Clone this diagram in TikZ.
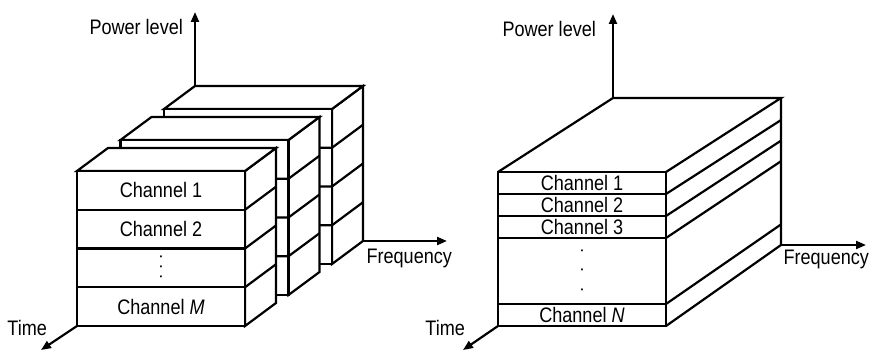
\documentclass[tikz,border=0pt]{standalone}
\usepackage{fontspec}
\setmainfont{Liberation Sans}[FakeStretch=0.86]
\usetikzlibrary{arrows.meta, positioning, calc}

\begin{document}
\begin{tikzpicture}[x=1pt, y=-1pt, line width=2.2pt,
    face/.style={draw, fill=white},
    axis/.style={-{Triangle[length=10pt, width=8pt]}},
    chan/.style={draw, fill=white, minimum width=168pt, inner sep=0pt, outer sep=0pt,
      text height=15pt, text depth=0pt, font=\fontsize{21}{21}\selectfont},
    lab/.style={inner sep=0pt, font=\fontsize{21}{21}\selectfont},
    dotmark/.style={inner sep=0pt, font=\fontsize{8}{8}\selectfont}]
    \useasboundingbox (0,0) rectangle (875,352);

    \foreach \x/\y in {164/109, 120.5/140} {
        \draw[face] (\x+168,\y) -- ++(31,-23) -- ++(0,155) -- ++(-31,23) -- cycle;
        \draw[face] (\x,\y) -- ++(31,-23) -- ++(168,0) -- ++(-31,23) -- cycle;
        \draw[face] (\x,\y) rectangle ++(168,155);
        \foreach \k in {1,2,3}
            \draw (\x,\y+\k*38.75) -- ++(168,0) -- ++(31,-23);
    }
    \draw[face] (245,171) -- ++(31,-23) -- ++(0,155) -- ++(-31,23) -- cycle;
    \draw[face] (77,171) -- ++(31,-23) -- ++(168,0) -- ++(-31,23) -- cycle;
    \node[chan, minimum height=38.75pt, anchor=north west] (m1) at (77,171) {Channel 1};
    \node[chan, minimum height=38.75pt, below=0pt of m1] (m2) {Channel 2};
    \node[chan, minimum height=38.75pt, below=0pt of m2] (m3) {};
    \node[chan, minimum height=38.75pt, below=0pt of m3] (m4) {Channel \textit{M}};
    \foreach \k in {1,2,3}
        \draw (m\k.south east) -- ++(31,-23);
    \foreach \k in {-1,0,1}
        \node[dotmark] (d1\k) at ($(m3.center)+(0,\k*10)$) {•};

    \coordinate (o1) at (195,86);
    \coordinate (p1) at (195,12);
    \coordinate (f1) at (363,241);
    \coordinate (q1) at (447,241);
    \coordinate (t1) at (41,350);
    \draw[axis] (o1) -- (p1);
    \draw[axis] (f1) -- (q1);
    \draw[axis] (m4.south west) -- (t1);
    \node[lab, anchor=east] (pw1) at ($(p1)+(-11,15)$) {Power level};
    \node[lab, anchor=base east] (fr1) at ($(q1)+(6,23)$) {Frequency};
    \node[lab, anchor=base east] (tm1) at ($(t1)+(7,-14)$) {Time};

    \node[chan, minimum height=22pt, anchor=north west] (n1) at (498,172) {Channel 1};
    \node[chan, minimum height=22pt, below=0pt of n1] (n2) {Channel 2};
    \node[chan, minimum height=22pt, below=0pt of n2] (n3) {Channel 3};
    \node[chan, minimum height=66pt, below=0pt of n3] (n4) {};
    \node[chan, minimum height=22pt, below=0pt of n4] (n5) {Channel \textit{N}};
    \foreach \k in {-1,0,1}
        \node[dotmark] (d2\k) at ($(n4.center)+(0,\k*19.5)$) {•};

    \coordinate (k1) at (613,98);
    \coordinate (k2) at (781,98);
    \coordinate (k3) at (781,245);
    \draw (n1.north west) -- (k1) -- (k2) -- (n1.north east);
    \draw (k2) -- (k3) -- (n5.south east);
    \foreach \k/\t in {1/0.15, 2/0.29, 3/0.43, 4/0.86}
        \draw (n\k.south east) -- ($(k2)!\t!(k3)$);

    \coordinate (p2) at (613,14);
    \coordinate (q2) at (866,245);
    \coordinate (t2) at (463,350);
    \draw[axis] (k1) -- (p2);
    \draw[axis] (k3) -- (q2);
    \draw[axis] (n5.south west) -- (t2);
    \node[lab, anchor=east] (pw2) at ($(p2)+(-16,15)$) {Power level};
    \node[lab, anchor=base east] (fr2) at ($(q2)+(4,20)$) {Frequency};
    \node[lab, anchor=base east] (tm2) at ($(t2)+(3,-14)$) {Time};
\end{tikzpicture}
\end{document}
